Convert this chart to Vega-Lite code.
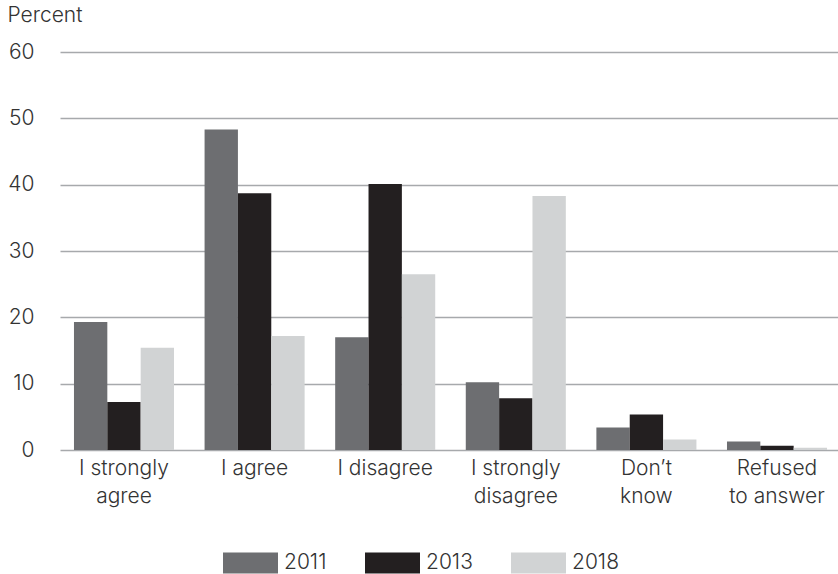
{
  "$schema": "https://vega.github.io/schema/vega-lite/v6.json",
  "autosize": "none",
  "width": 781,
  "height": 398,
  "padding": {"left": 60, "top": 52, "right": 0, "bottom": 124},
  "background": "white",
  "config": {
    "font": "Inter",
    "view": {"stroke": null},
    "axis": {"labelFont": "Inter", "labelFontWeight": 300, "labelColor": "#333333", "titleFont": "Inter", "titleFontWeight": 300, "titleColor": "#333333"},
    "legend": {"labelFont": "Inter", "labelFontWeight": 300, "labelColor": "#333333"}
  },
  "data": {
    "values": [
      {"category": "I strongly agree", "year": "2011", "percent": 19.3},
      {"category": "I strongly agree", "year": "2013", "percent": 7.25},
      {"category": "I strongly agree", "year": "2018", "percent": 15.4},
      {"category": "I agree", "year": "2011", "percent": 48.3},
      {"category": "I agree", "year": "2013", "percent": 38.7},
      {"category": "I agree", "year": "2018", "percent": 17.2},
      {"category": "I disagree", "year": "2011", "percent": 17.0},
      {"category": "I disagree", "year": "2013", "percent": 40.1},
      {"category": "I disagree", "year": "2018", "percent": 26.5},
      {"category": "I strongly disagree", "year": "2011", "percent": 10.2},
      {"category": "I strongly disagree", "year": "2013", "percent": 7.8},
      {"category": "I strongly disagree", "year": "2018", "percent": 38.3},
      {"category": "Don’t know", "year": "2011", "percent": 3.4},
      {"category": "Don’t know", "year": "2013", "percent": 5.35},
      {"category": "Don’t know", "year": "2018", "percent": 1.6},
      {"category": "Refused to answer", "year": "2011", "percent": 1.3},
      {"category": "Refused to answer", "year": "2013", "percent": 0.65},
      {"category": "Refused to answer", "year": "2018", "percent": 0.35}
    ]
  },
  "mark": {"type": "bar"},
  "encoding": {
    "x": {
      "field": "category",
      "type": "nominal",
      "sort": null,
      "scale": {"paddingInner": 0.234, "paddingOuter": 0.107},
      "axis": {
        "title": null,
        "labelAngle": 0,
        "domain": false,
        "ticks": false,
        "tickSize": 0,
        "labelFontSize": 21,
        "labelPadding": 7,
        "labelBaseline": "top",
        "labelLineHeight": 28,
        "labelExpr": "datum.value == 'I strongly agree' ? ['I strongly', 'agree'] : datum.value == 'I strongly disagree' ? ['I strongly', 'disagree'] : datum.value == 'Don’t know' ? ['Don’t', 'know'] : datum.value == 'Refused to answer' ? ['Refused', 'to answer'] : datum.value"
      }
    },
    "xOffset": {"field": "year", "type": "nominal", "scale": {"paddingInner": 0, "paddingOuter": 0}},
    "y": {
      "field": "percent",
      "type": "quantitative",
      "scale": {"domain": [0, 60], "nice": false},
      "axis": {
        "title": "Percent",
        "titleAngle": 0,
        "titleAlign": "left",
        "titleBaseline": "top",
        "titleX": -53,
        "titleY": -48,
        "titleFontSize": 21,
        "values": [0, 10, 20, 30, 40, 50, 60],
        "domain": false,
        "ticks": false,
        "tickSize": 0,
        "labelFontSize": 21,
        "labelPadding": 26,
        "grid": true,
        "gridColor": "#a7a9ac",
        "gridWidth": 1.5
      }
    },
    "color": {
      "field": "year",
      "type": "nominal",
      "scale": {"domain": ["2011", "2013", "2018"], "range": ["#6d6e71", "#231f20", "#d1d3d4"]},
      "legend": {
        "title": null,
        "orient": "none",
        "direction": "horizontal",
        "legendX": 163,
        "legendY": 483,
        "symbolType": "M-1,-0.382L1,-0.382L1,0.382L-1,0.382Z",
        "symbolSize": 3025,
        "symbolStrokeWidth": 0,
        "symbolOpacity": 1,
        "labelFontSize": 21,
        "labelOffset": 6,
        "columnPadding": 38
      }
    }
  }
}
